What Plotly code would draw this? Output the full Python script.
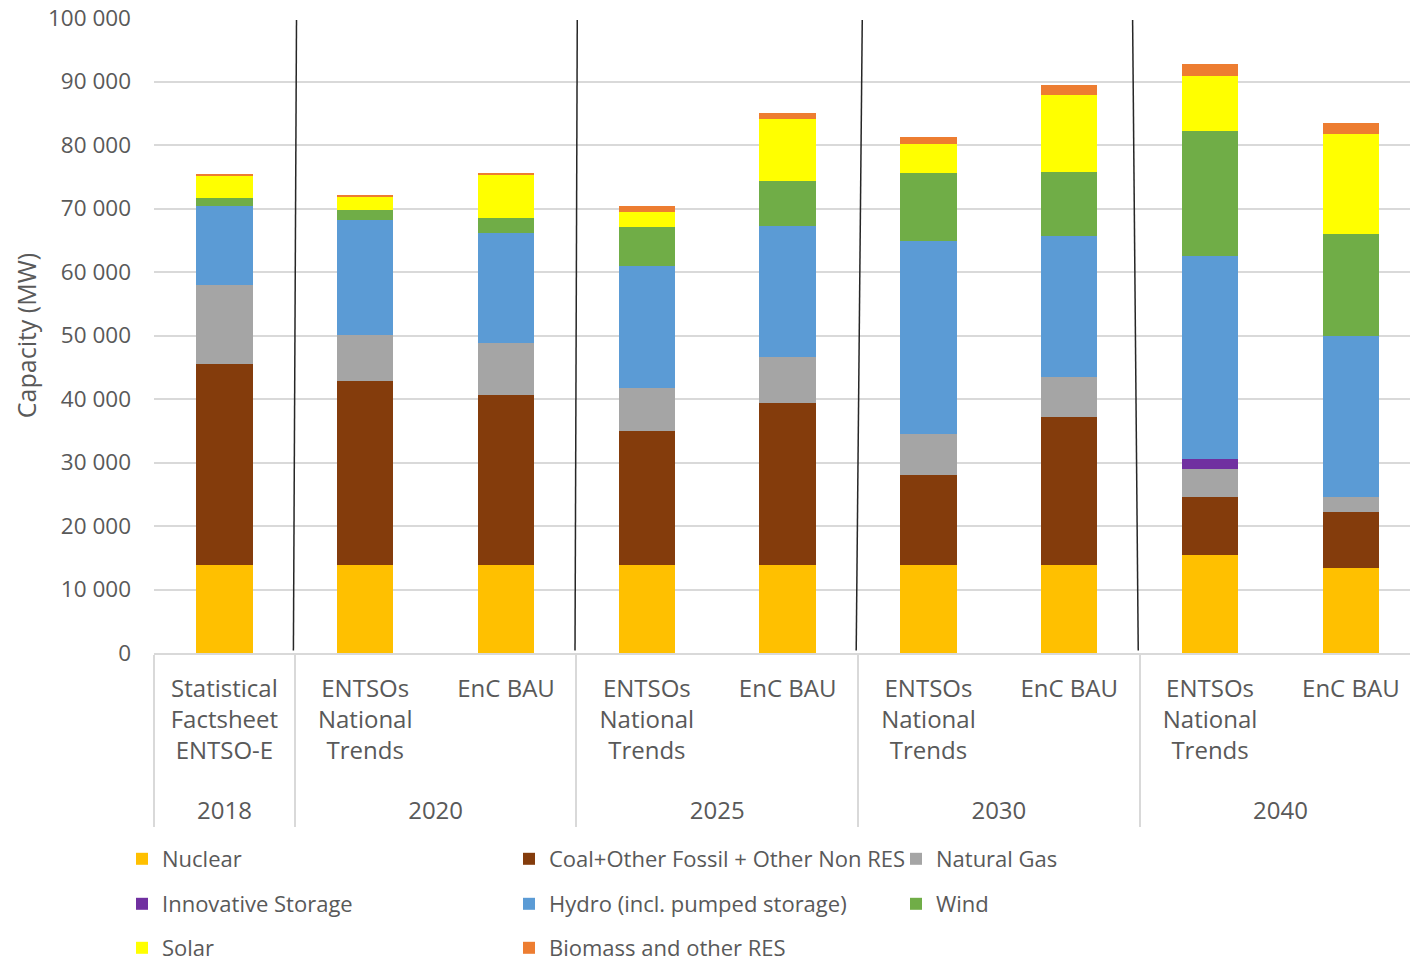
import plotly.graph_objects as go

# Category levels: year (outer) and scenario (inner)
years = ["2018", "2020", "2020", "2025", "2025", "2030", "2030", "2040", "2040"]
# a trailing spacer line on the long labels leaves room before the year row
PAD = "<br><span style='font-size:48px'>&nbsp;</span>"
scenarios = [
    "Statistical<br>Factsheet<br>ENTSO-E" + PAD,
    "ENTSOs<br>National<br>Trends" + PAD, "EnC BAU",
    "ENTSOs<br>National<br>Trends" + PAD, "EnC BAU",
    "ENTSOs<br>National<br>Trends" + PAD, "EnC BAU",
    "ENTSOs<br>National<br>Trends" + PAD, "EnC BAU",
]

# Installed capacity by technology (MW)
nuclear = [13860, 13860, 13860, 13860, 13860, 13860, 13860, 15480, 13340]
coal = [31600, 28980, 26720, 21040, 25480, 14230, 23230, 9130, 8940]
natural_gas = [12440, 7200, 8190, 6850, 7310, 6460, 6300, 4350, 2270]
innovative_storage = [0, 0, 0, 0, 0, 0, 0, 1650, 0]
hydro = [12490, 18110, 17370, 19130, 20530, 30380, 22220, 31890, 25340]
wind = [1210, 1675, 2310, 6190, 7200, 10740, 10090, 19660, 16170]
solar = [3570, 2000, 6825, 2410, 9730, 4550, 12130, 8750, 15670]
biomass = [200, 370, 215, 900, 900, 1020, 1670, 1780, 1720]

series = [
    ("Nuclear", nuclear, "#FFC000", "legend"),
    ("Coal+Other Fossil + Other Non RES", coal, "#843C0C", "legend"),
    ("Natural Gas", natural_gas, "#A5A5A5", "legend"),
    ("Innovative Storage", innovative_storage, "#7030A0", "legend2"),
    ("Hydro (incl. pumped storage)", hydro, "#5B9BD5", "legend2"),
    ("Wind", wind, "#70AD47", "legend2"),
    ("Solar", solar, "#FFFF00", "legend3"),
    ("Biomass and other RES", biomass, "#ED7D31", "legend3"),
]

FONT = "Open Sans"
TXT = "#595959"
W, H = 1410, 962

fig = go.Figure()
for name, vals, color, leg in series:
    fig.add_trace(go.Bar(
        x=[years, scenarios], y=vals, name=name, legend=leg,
        marker=dict(color=color, line=dict(width=0)),
    ))

# x range in category units; plot area spans from the left margin to the page edge
x_range = [-0.5, 8.42]
span = x_range[1] - x_range[0]

def to_paper(v):
    return (v - x_range[0]) / span

# Year-group separators inside the plot (slightly slanted, hand-drawn look)
group_bounds = [0.5, 2.5, 4.5, 6.5]
slant = [(0.012, 0.0), (0.006, 0.0), (0.03, -0.003), (-0.05, 0.0)]
shapes = []
for b, (dt, db) in zip(group_bounds, slant):
    shapes.append(dict(
        type="line", xref="paper", yref="paper",
        x0=to_paper(b + dt), y0=0.997, x1=to_paper(b + db - 0.01), y1=0.004,
        line=dict(color="#262626", width=1.5),
    ))

leg_common = dict(
    orientation="h", xanchor="left", yanchor="middle",
    xref="container", yref="container",
    entrywidth=342, entrywidthmode="pixels",
    font=dict(family=FONT, size=22, color=TXT),
    traceorder="normal", bgcolor="rgba(0,0,0,0)",
    itemclick=False,
)

def legend_pos(px, py):
    return dict(x=px / W, y=1 - py / H)

fig.update_layout(
    width=W, height=H,
    margin=dict(l=154, r=0, t=18, b=309),
    paper_bgcolor="white", plot_bgcolor="white",
    barmode="stack", bargap=0.6,
    separators=". ",
    font=dict(family=FONT, color=TXT),
    shapes=shapes,
    legend=dict(leg_common, **legend_pos(122, 859)),
    legend2=dict(leg_common, **legend_pos(122, 904)),
    legend3=dict(leg_common, **legend_pos(122, 948)),
    xaxis=dict(
        type="multicategory", range=x_range, automargin=False,
        showgrid=False, showline=True, linecolor="#D9D9D9", linewidth=1.5,
        ticks="", showdividers=True, dividercolor="#D9D9D9", dividerwidth=1.5,
        ticklabelstandoff=13,
        tickfont=dict(family=FONT, size=24, color=TXT),
        zeroline=False,
    ),
    yaxis=dict(
        range=[0, 100000], dtick=10000, tickformat=",d", automargin=False,
        showgrid=True, gridcolor="#D9D9D9", gridwidth=1.5,
        zeroline=False, showline=False, ticks="",
        ticklabelstandoff=22,
        tickfont=dict(family=FONT, size=22.5, color=TXT),
        title=dict(text="Capacity (MW)", standoff=4,
                   font=dict(family=FONT, size=25, color=TXT)),
    ),
)

fig.write_html("out.html")
